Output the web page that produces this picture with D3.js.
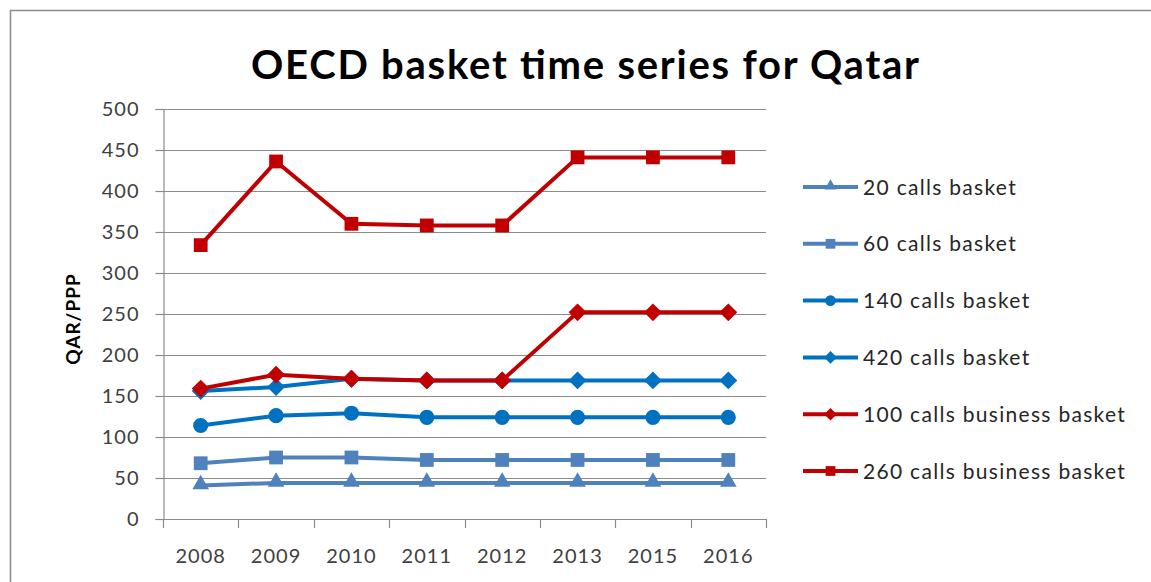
<!DOCTYPE html>
<html>
<head>
<meta charset="utf-8">
<script src="https://cdn.jsdelivr.net/npm/d3@7"></script>
<style>
  body { margin: 0; background: #fff; }
  text { font-family: Lato, "Noto Sans", sans-serif; }
</style>
</head>
<body>
<div id="chart"></div>
<script>
var years = ["2008", "2009", "2010", "2011", "2012", "2013", "2015", "2016"];
var seriesNames = ["20 calls basket", "60 calls basket", "140 calls basket", "420 calls basket", "100 calls business basket", "260 calls business basket"];
var calls20 = [41, 44, 44, 44, 44, 44, 44, 44];
var calls60 = [68, 75, 75, 72, 72, 72, 72, 72];
var calls140 = [114, 126, 129, 124, 124, 124, 124, 124];
var calls420 = [156, 161, 171, 169, 169, 169, 169, 169];
var business100 = [159, 176, 171, 169, 169, 252, 252, 252];
var business260 = [334, 436, 360, 358, 358, 441, 441, 441];
var yTicks = [0, 50, 100, 150, 200, 250, 300, 350, 400, 450, 500];

var seriesValues = [calls20, calls60, calls140, calls420, business100, business260];
var seriesColors = ["#4f81bd", "#4f81bd", "#0070c0", "#0070c0", "#c00000", "#c00000"];
var seriesSymbols = ["triangle", "square", "circle", "diamond", "diamond", "square"];

var width = 1151, height = 582;
var plotLeft = 163, plotRight = 766, plotTop = 109, plotBottom = 519;

var svg = d3.select("#chart").append("svg")
    .attr("width", width)
    .attr("height", height);

// outer chart border (only top and left are visible in the crop)
svg.append("path")
    .attr("d", "M10.5," + height + "V10.5H" + width)
    .attr("fill", "none")
    .attr("stroke", "#8c8c8c")
    .attr("stroke-width", 1.5);

var x = d3.scaleBand().domain(years).range([plotLeft, plotRight]).padding(0);
var y = d3.scaleLinear().domain([0, 500]).range([plotBottom, plotTop]);

// gridlines
svg.append("g").selectAll("line")
    .data(yTicks)
    .enter().append("line")
    .attr("x1", plotLeft).attr("x2", plotRight)
    .attr("y1", function(d) { return Math.round(y(d)) + 0.5; })
    .attr("y2", function(d) { return Math.round(y(d)) + 0.5; })
    .attr("stroke", "#8c8c8c")
    .attr("stroke-width", 1.2);

// y axis
var yAxis = svg.append("g")
    .attr("transform", "translate(" + (plotLeft + 0.5) + ",0)")
    .call(d3.axisLeft(y).tickValues(yTicks).tickSize(8).tickPadding(16));
yAxis.select(".domain").attr("stroke", "#8c8c8c").attr("stroke-width", 1.2);
yAxis.selectAll(".tick line").attr("stroke", "#8c8c8c").attr("stroke-width", 1.2);
yAxis.selectAll(".tick text")
    .attr("font-size", 20).attr("fill", "#404040")
    .attr("letter-spacing", 1)
    .style("font-family", "Lato, 'Noto Sans', sans-serif");

// x axis, ticks between categories
var boundaries = years.map(function(d) { return x(d); }).concat([plotRight]);
var xAxis = svg.append("g");
xAxis.append("line")
    .attr("x1", plotLeft).attr("x2", plotRight)
    .attr("y1", plotBottom + 0.5).attr("y2", plotBottom + 0.5)
    .attr("stroke", "#8c8c8c").attr("stroke-width", 1.2);
xAxis.selectAll(".xtick")
    .data(boundaries)
    .enter().append("line")
    .attr("x1", function(d) { return Math.round(d) + 0.5; })
    .attr("x2", function(d) { return Math.round(d) + 0.5; })
    .attr("y1", plotBottom).attr("y2", plotBottom + 9)
    .attr("stroke", "#8c8c8c").attr("stroke-width", 1.2);
xAxis.selectAll(".xlabel")
    .data(years)
    .enter().append("text")
    .attr("x", function(d) { return x(d) + x.bandwidth() / 2; })
    .attr("y", 563)
    .attr("text-anchor", "middle")
    .attr("font-size", 20)
    .attr("letter-spacing", 1)
    .attr("fill", "#404040")
    .text(function(d) { return d; });

// y axis title
svg.append("text")
    .attr("transform", "translate(80,319) rotate(-90)")
    .attr("text-anchor", "middle")
    .attr("font-size", 19)
    .attr("font-weight", "bold")
    .attr("letter-spacing", 1)
    .attr("fill", "#000")
    .text("QAR/PPP");

// title
svg.append("text")
    .attr("x", 585)
    .attr("y", 79)
    .attr("text-anchor", "middle")
    .attr("font-size", 40)
    .attr("font-weight", "bold")
    .attr("textLength", 668)
    .attr("lengthAdjust", "spacing")
    .attr("fill", "#000")
    .text("OECD basket time series for Qatar");

function markerPath(kind, scale) {
    var s = scale || 1;
    if (kind == "triangle") return d3.symbol().type(d3.symbolTriangle).size(120 * s)();
    if (kind == "square") return d3.symbol().type(d3.symbolSquare).size(190 * s)();
    if (kind == "circle") return d3.symbol().type(d3.symbolCircle).size(180 * s)();
    return d3.symbol().type(d3.symbolSquare).size(160 * s)();
}
function markerTransform(kind, cx, cy) {
    var t = "translate(" + cx + "," + cy + ")";
    if (kind == "diamond") t += " rotate(45)";
    if (kind == "triangle") t += " translate(0,-1)";
    return t;
}

var line = d3.line()
    .x(function(d, i) { return x(years[i]) + x.bandwidth() / 2; })
    .y(function(d) { return y(d); });

seriesValues.forEach(function(vals, k) {
    var g = svg.append("g");
    g.append("path")
        .attr("d", line(vals))
        .attr("fill", "none")
        .attr("stroke", seriesColors[k])
        .attr("stroke-width", 4)
        .attr("stroke-linejoin", "round");
    g.selectAll("path.marker")
        .data(vals)
        .enter().append("path")
        .attr("class", "marker")
        .attr("d", markerPath(seriesSymbols[k]))
        .attr("transform", function(d, i) {
            return markerTransform(seriesSymbols[k], x(years[i]) + x.bandwidth() / 2, y(d));
        })
        .attr("fill", seriesColors[k]);
});

// legend
var legendY0 = 187, legendStep = 56.8;
var legend = svg.selectAll(".legend")
    .data(seriesNames)
    .enter().append("g")
    .attr("class", "legend")
    .attr("transform", function(d, i) { return "translate(803," + (legendY0 + i * legendStep) + ")"; });
legend.append("line")
    .attr("x1", 0).attr("x2", 55)
    .attr("stroke", function(d, i) { return seriesColors[i]; })
    .attr("stroke-width", 4);
legend.append("path")
    .attr("d", function(d, i) { return markerPath(seriesSymbols[i], 0.5); })
    .attr("transform", function(d, i) { return markerTransform(seriesSymbols[i], 27.5, 0); })
    .attr("fill", function(d, i) { return seriesColors[i]; });
legend.append("text")
    .attr("x", 60)
    .attr("y", 7.5)
    .attr("font-size", 21)
    .attr("letter-spacing", 1.3)
    .attr("fill", "#262626")
    .text(function(d) { return d; });
</script>
</body>
</html>
